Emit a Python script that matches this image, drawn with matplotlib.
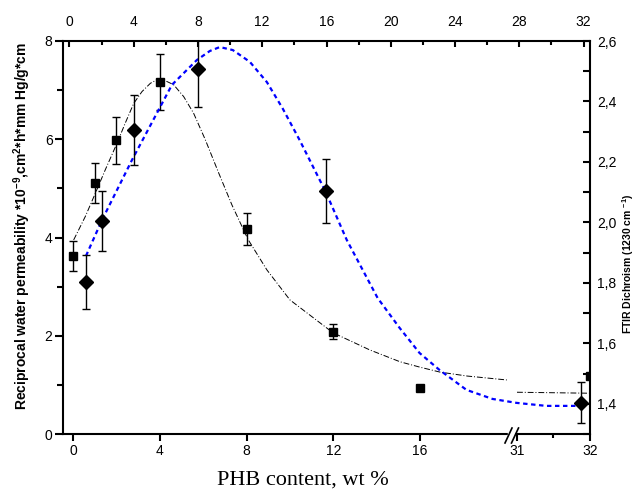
import numpy as np
import matplotlib
matplotlib.use("Agg")
import matplotlib.pyplot as plt
from matplotlib.ticker import FixedLocator, FuncFormatter

plt.rcParams['font.family'] = ['Liberation Sans', 'DejaVu Sans']
plt.rcParams['mathtext.fontset'] = 'custom'
plt.rcParams['mathtext.bf'] = 'Liberation Sans:bold'
plt.rcParams['mathtext.rm'] = 'Liberation Sans'

# ------------------------------------------------------------
# Daten

# Permeabilitaet (untere x-Achse, linke y-Achse)
perm_x = [0, 1, 2, 4, 8, 12, 16, 32]
perm_y = [3.62, 5.11, 5.98, 7.17, 4.17, 2.08, 0.94, 1.18]
perm_err = [0.30, 0.41, 0.48, 0.57, 0.33, 0.15, 0.0, 0.0]

# Fitkurve Permeabilitaet (zwei Teile wegen Achsenbruch)
fit1_x = [0.03, 0.57, 1.03, 1.49, 2.03, 2.41, 2.80, 3.18, 3.57, 3.87, 4.26, 4.64,
          5.10, 5.56, 6.10, 6.72, 7.33, 8.07, 8.94, 10.0, 11.99, 13.69,
          15.08, 16.0, 16.92, 18.17, 20.0]
fit1_y = [3.95, 4.43, 4.90, 5.38, 5.92, 6.33, 6.73, 6.97, 7.14, 7.21, 7.19, 7.11,
          6.87, 6.53, 5.99, 5.31, 4.66, 3.96, 3.34, 2.73, 2.06, 1.71,
          1.47, 1.36, 1.26, 1.18, 1.10]
fit2_x = [31.0, 32.0]
fit2_y = [0.85, 0.83]

# Dichroismus (obere x-Achse, rechte y-Achse)
dich_x = [1.03, 2.03, 4.01, 7.99, 15.95, 31.86]
dich_y = [1.803, 2.005, 2.306, 2.507, 2.104, 1.403]
dich_err = [0.09, 0.10, 0.115, 0.125, 0.105, 0.068]

# Fitkurve Dichroismus
dfit_x = [1.03, 2.03, 3.89, 5.55, 6.38, 7.93, 8.74, 9.36, 10.17, 11.23, 12.29,
          13.28, 14.33, 15.95, 17.26, 19.18, 20.55, 21.79, 23.03, 24.71, 26.33,
          27.82, 29.68, 31.55, 31.86]
dfit_y = [1.889, 2.008, 2.206, 2.372, 2.455, 2.537, 2.567, 2.580, 2.570, 2.531,
          2.464, 2.376, 2.272, 2.101, 1.942, 1.750, 1.651, 1.568, 1.512, 1.446,
          1.416, 1.403, 1.393, 1.393, 1.403]

left_ticks = [0, 2, 4, 6, 8]
bottom_ticks = [0, 4, 8, 12, 16, 31, 32]
top_ticks = [0, 4, 8, 12, 16, 20, 24, 28, 32]
right_ticks = [1.4, 1.6, 1.8, 2.0, 2.2, 2.4, 2.6]

# ------------------------------------------------------------
# gebrochene Skala fuer die untere Achse
xk = np.array([-50.0, 20.2, 30.95, 80.0])
uk = np.array([73 - 21.69 * 50, 73 + 21.69 * 20.2, 517 - 73 * 0.05, 517 + 73 * 49])


def fwd(x):
    return np.interp(x, xk, uk)


def inv(u):
    return np.interp(u, uk, xk)


W, H = 642, 496
fig = plt.figure(figsize=(W / 100, H / 100), dpi=100)
rect = [63 / W, 1 - 434 / H, (590 - 63) / W, (434 - 41) / H]

ax = fig.add_axes(rect)
ax.set_xscale('function', functions=(fwd, inv))
ax.set_xlim(-0.461, 32.0)
ax.set_ylim(0, 8)

ax2 = fig.add_axes(rect)
ax2.patch.set_visible(False)
ax2.set_xlim(-0.4, 32.4)
ax2.set_ylim(1.3, 2.6)
ax2.xaxis.tick_top()
ax2.yaxis.tick_right()
for s in ['left', 'bottom']:
    ax2.spines[s].set_visible(False)
for s in ['top', 'right']:
    ax.spines[s].set_visible(False)
for a in (ax, ax2):
    for s in a.spines.values():
        s.set_linewidth(1.5)

# Permeabilitaet
ax.errorbar(perm_x, perm_y, yerr=perm_err, fmt='s', color='black', ms=6,
            ecolor='black', elinewidth=1, capsize=3, capthick=1)
ax.plot(fit1_x, fit1_y, color='black', lw=0.7, ls=(0, (6, 2, 1, 2)))
ax.plot(fit2_x, fit2_y, color='black', lw=0.7, ls=(0, (6, 2, 1, 2)))

# Dichroismus
ax2.plot(dfit_x, dfit_y, color='#0000ff', lw=1.6, ls=(0, (2, 1.6)))
ax2.errorbar(dich_x, dich_y, yerr=dich_err, fmt='D', color='black', ms=7,
             ecolor='black', elinewidth=1, capsize=3, capthick=1)

# Achsen
ax.xaxis.set_major_locator(FixedLocator(bottom_ticks))
ax.xaxis.set_minor_locator(FixedLocator([31.5]))
ax.yaxis.set_major_locator(FixedLocator(left_ticks))
ax.yaxis.set_minor_locator(FixedLocator([1, 3, 5, 7]))
ax.xaxis.set_major_formatter(FuncFormatter(lambda v, p: '%d' % round(v)))
ax.tick_params(axis='x', which='major', direction='out', length=5, width=1.5, pad=2, labelsize=10)
ax.tick_params(axis='x', which='minor', direction='out', length=3, width=1.5)
ax.tick_params(axis='y', which='major', direction='out', length=6, width=1.5, pad=1.5, labelsize=10)
ax.tick_params(axis='y', which='minor', direction='out', length=4, width=1.5)

ax2.xaxis.set_major_locator(FixedLocator(top_ticks))
ax2.xaxis.set_minor_locator(FixedLocator(list(range(2, 32, 4))))
ax2.yaxis.set_major_locator(FixedLocator(right_ticks))
ax2.yaxis.set_minor_locator(FixedLocator([1.3, 1.5, 1.7, 1.9, 2.1, 2.3, 2.5]))
ax2.yaxis.set_major_formatter(FuncFormatter(lambda v, p: ('%.1f' % v).replace('.', ',')))
ax2.tick_params(axis='x', which='major', direction='in', length=4, width=1.5, pad=9, labelsize=10)
ax2.tick_params(axis='x', which='minor', direction='in', length=3, width=1.5)
ax2.tick_params(axis='y', which='major', direction='in', length=5, width=1.5, pad=5, labelsize=10)
ax2.tick_params(axis='y', which='minor', direction='in', length=5, width=1.5)

# Achsenbruch
fx = lambda px: px / W
fy = lambda py: 1 - py / H
fig.patches.append(plt.Rectangle((fx(508), fy(436.5)), 6 / W, 5 / H, color='white',
                                 transform=fig.transFigure, zorder=5))
for x0 in (505, 511.5):
    fig.add_artist(plt.Line2D([fx(x0), fx(x0 + 7)], [fy(443), fy(428)], color='black',
                              lw=1.2, transform=fig.transFigure, zorder=6))

# Beschriftungen
fig.text(22 / W, fy(226), r'Reciprocal water permeability *10$^{\mathbf{-9}}$,cm$^{\mathbf{2}}$*h*mm Hg/g*cm',
         rotation=90, ha='center', va='center', fontsize=10, fontweight='bold')
fig.text(fx(303), fy(480), 'PHB content, wt %', ha='center', va='center',
         fontsize=16, family='Liberation Serif')
fig.text(fx(628), fy(264), r'FTIR Dichroism (1230 cm $^{\mathbf{-1}}$)', rotation=90,
         ha='center', va='center', fontsize=7.5, fontweight='bold')

fig.savefig('out.png', dpi=100)
